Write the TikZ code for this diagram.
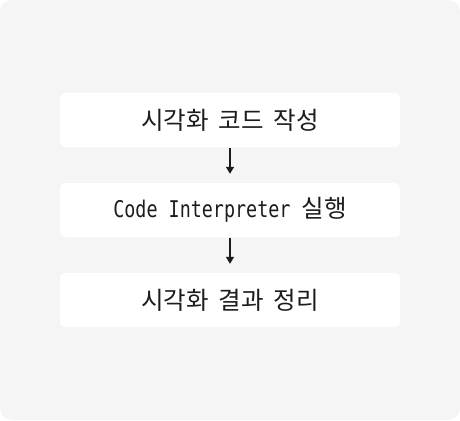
\documentclass[tikz,border=0pt]{standalone}
\usepackage{fontspec}
\usetikzlibrary{arrows.meta}
\setmainfont[FakeStretch=0.8]{DejaVu Sans Mono}
\newfontfamily\kr{Noto Sans CJK KR}
\newcommand\wgap{\hspace*{10pt}}
\newcommand\krtext{\kr\fontsize{24.5}{28}\selectfont}
\definecolor{bgc}{HTML}{F5F5F5}
\definecolor{ink}{HTML}{1C1C1C}
\begin{document}
\begin{tikzpicture}[x=1pt,y=-1pt,
  stepbox/.style={fill=white, rounded corners=5pt, minimum width=340pt, minimum height=54pt,
    inner sep=0pt, text=ink, font=\fontsize{23}{27}\selectfont},
  flow/.style={draw=ink, line width=1.3pt, -{Triangle[length=7pt,width=8pt]},
    shorten <=1pt, shorten >=9pt}]
\useasboundingbox (0,0) rectangle (460,420);
\fill[bgc, rounded corners=12pt] (0,0) rectangle (460,420);
\node[stepbox] (b1) at (230,120) {{\krtext 시각화\wgap 코드\wgap 작성}};
\node[stepbox] (b2) at (230,210) {Code Interpreter {\krtext 실행}};
\node[stepbox] (b3) at (230,300) {{\krtext 시각화\wgap 결과\wgap 정리}};
\draw[flow] (b1.south) -- (b2.north);
\draw[flow] (b2.south) -- (b3.north);
\end{tikzpicture}
\end{document}
